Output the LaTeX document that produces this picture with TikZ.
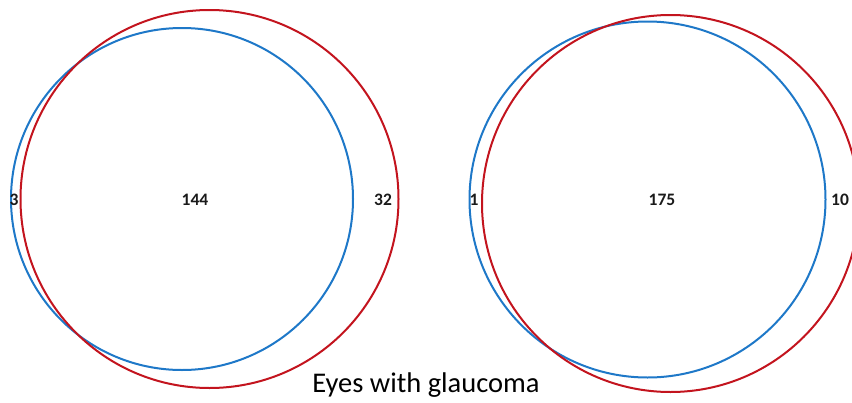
\documentclass[tikz,border=0pt]{standalone}
\usepackage{fontspec}
\setmainfont{Carlito}
\usetikzlibrary{positioning}
\definecolor{vennblue}{HTML}{1E78C8}
\definecolor{vennred}{HTML}{C3141E}
\definecolor{venntext}{HTML}{1A1A1A}

\begin{document}
\begin{tikzpicture}[
  x=1pt, y=-1pt,
  setb/.style={draw=vennblue, line width=2pt},
  setr/.style={draw=vennred, line width=2pt},
  num/.style={font=\fontsize{17.5}{19}\selectfont\bfseries, text=venntext, inner sep=1pt},
  captext/.style={font=\fontsize{28.5}{31}\selectfont, text=black, inner sep=0pt},
]
\clip (0,0) rectangle (852,402);

% ---------------- left pair -----------------------------------------
\draw[setb] (182,199) circle[radius=171pt];
\draw[setr] (209.5,199) circle[radius=189pt];

\node[num] (lonly) at (14,200) {3};
\node[num] (lboth) at (195,200) {144};
\node[num] (rlonly) at (383,200) {32};

% ---------------- right pair ----------------------------------------
\draw[setb] (647.5,199.5) circle[radius=178pt];
\draw[setr] (670.5,203.5) circle[radius=188.5pt];

\node[num] (ronly) at (474,200) {1};
\node[num] (rboth) at (662,200) {175};
\node[num] (rronly) at (840,200) {10};

% ---------------- caption -------------------------------------------
\node[captext] (title) at (426,385) {Eyes with glaucoma};

\end{tikzpicture}
\end{document}
